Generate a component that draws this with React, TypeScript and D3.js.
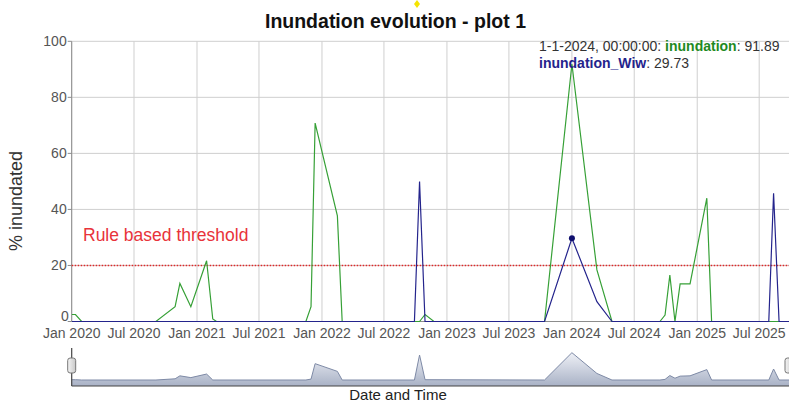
import React from "react";
import * as d3 from "d3";

// ---- data ----
const inundationDates = [
  "2020-01-01", "2020-01-12", "2020-01-30", "2020-09-03", "2020-10-29", "2020-11-12",
  "2020-12-14", "2021-01-29", "2021-02-16", "2021-02-27", "2021-11-15", "2021-11-30",
  "2021-12-12", "2022-02-15", "2022-03-01", "2022-10-13", "2022-10-29", "2022-11-24",
  "2023-10-13", "2024-01-01", "2024-03-14", "2024-04-27", "2024-09-14", "2024-09-29",
  "2024-10-13", "2024-10-28", "2024-11-12", "2024-12-11", "2025-01-29", "2025-02-12",
  "2025-10-01",
];
const inundationValues = [
  2.5, 2.5, 0, 0, 5.3, 13.6,
  5.3, 21.7, 0.9, 0, 0, 5.3,
  70.8, 37.7, 0, 0, 2.5, 0,
  0, 91.89, 18.4, 0, 0, 2.3,
  16.6, 0, 13.4, 13.4, 44, 0,
  0,
];
const wiwDates = [
  "2020-01-01", "2022-09-28", "2022-10-13", "2022-10-29", "2023-10-13", "2024-01-01",
  "2024-03-14", "2024-04-27", "2025-07-29", "2025-08-12", "2025-08-28", "2025-10-01",
];
const wiwValues = [0, 0, 50, 0, 0, 29.73, 7.1, 0, 0, 45.8, 0, 0];

// overview strip (range selector) values
const overviewDates = [
  "2020-01-01", "2020-01-12", "2020-01-30", "2020-09-03", "2020-10-29", "2020-11-12",
  "2020-12-14", "2021-01-29", "2021-02-16", "2021-11-15", "2021-11-30", "2021-12-12",
  "2022-02-15", "2022-03-01", "2022-09-28", "2022-10-13", "2022-10-29", "2023-10-13",
  "2024-01-01", "2024-03-14", "2024-04-27", "2024-09-14", "2024-09-29", "2024-10-13",
  "2024-10-28", "2024-11-12", "2024-12-11", "2025-01-29", "2025-02-12", "2025-07-29",
  "2025-08-12", "2025-08-28", "2025-10-01",
];
const overviewValues = [
  1, 1, 0, 0, 4, 14,
  8, 20, 0, 0, 3, 55,
  29, 0, 0, 84, 1, 0,
  92, 22, 0, 0, 2, 15,
  6, 13, 14, 35, 0, 0,
  37, 0, 0,
];

const yTickValues = [0, 20, 40, 60, 80, 100];
const thresholdValue = 20;
const highlightDate = "2024-01-01";
const titleText = "Inundation evolution - plot 1";
const yLabelText = "% inundated";
const xLabelText = "Date and Time";
const thresholdLabel = "Rule based threshold";
const seriesNames = ["inundation", "inundation_Wiw"];

type Pt = { date: Date; value: number };
const parse = (s: string) => new Date(s + "T00:00:00Z");
const toPts = (ds: string[], vs: number[]): Pt[] => ds.map((d, i) => ({ date: parse(d), value: vs[i] }));

const greenData = toPts(inundationDates, inundationValues);
const blueData = toPts(wiwDates, wiwValues);
const overviewData = toPts(overviewDates, overviewValues);

const FONT = "Arial, 'Liberation Sans', sans-serif";
const GREEN = "#36a036";
const NAVY = "#24248c";

export default function App() {
  const W = 789, H = 403;
  const left = 71.7, right = 790.7, top = 41.3, bottom = 321.5;
  const x = d3.scaleUtc().domain([parse("2020-01-01"), parse("2025-10-01")]).range([left, right]);
  const y = d3.scaleLinear().domain([0, 100]).range([bottom, top]);

  const ovTop = 350.3, ovZero = 380, ovBottom = 386;
  const yo = d3.scaleLinear().domain([0, 100]).range([ovZero, ovTop]);

  const line = d3.line<Pt>().x(d => x(d.date)).y(d => y(d.value));
  const ovArea = d3.area<Pt>().x(d => x(d.date)).y0(ovBottom).y1(d => yo(d.value));
  const ovLine = d3.line<Pt>().x(d => x(d.date)).y(d => yo(d.value));

  const xTicks = x.ticks(d3.utcMonth.every(6) as any);
  const fmt = d3.utcFormat("%b %Y");

  const hd = parse(highlightDate);
  const gHi = greenData.find(p => +p.date === +hd)!;
  const bHi = blueData.find(p => +p.date === +hd)!;
  const dateStr = `${hd.getUTCDate()}-${hd.getUTCMonth() + 1}-${hd.getUTCFullYear()}, 00:00:00`;

  return (
    <svg width={W} height={H} style={{ position: "absolute", left: 0, top: 0, background: "#fff" }} fontFamily={FONT}>
      <defs>
        <linearGradient id="ovfill" x1="0" y1="0" x2="0" y2="1">
          <stop offset="0" stopColor="#eef0f6" />
          <stop offset="1" stopColor="#a9b2c6" />
        </linearGradient>
        <linearGradient id="handle" x1="0" y1="0" x2="1" y2="0">
          <stop offset="0" stopColor="#f4f4f4" />
          <stop offset="1" stopColor="#c8c8c8" />
        </linearGradient>
        <clipPath id="plotclip">
          <rect x={left} y={top - 5} width={right - left} height={bottom - top + 6} />
        </clipPath>
      </defs>

      {/* title */}
      <text x={395.5} y={27.5} textAnchor="middle" fontSize={19.5} fontWeight="bold" fill="#111">{titleText}</text>
      <path d="M417,0 L420,4 L417,8 L414,4 Z" fill="#f5e400" />

      {/* grid */}
      {yTickValues.map(v => (
        <line key={"gy" + v} x1={left} x2={W} y1={y(v)} y2={y(v)} stroke="#cfcfcf" strokeWidth={1} />
      ))}
      {xTicks.map(t => (
        <line key={"gx" + +t} x1={x(t)} x2={x(t)} y1={top} y2={bottom} stroke="#cfcfcf" strokeWidth={1} />
      ))}

      {/* axes */}
      <line x1={left} x2={left} y1={top} y2={bottom} stroke="#8c8c8c" strokeWidth={1} />
      <line x1={left} x2={W} y1={bottom} y2={bottom} stroke="#8c8c8c" strokeWidth={1} />
      {yTickValues.map(v => (
        <g key={"yt" + v}>
          <line x1={left - 4} x2={left} y1={y(v)} y2={y(v)} stroke="#8c8c8c" />
          <text x={v === 0 ? left - 3 : left - 5} y={y(v)} dy={v === 0 ? "-0.05em" : "0.35em"} textAnchor="end" fontSize={14} fill="#555">{v}</text>
        </g>
      ))}
      {xTicks.map(t => (
        <text key={"xt" + +t} x={x(t)} y={338} textAnchor="middle" fontSize={14} fill="#555">{fmt(t)}</text>
      ))}

      {/* axis labels */}
      <text transform={`translate(22,201) rotate(-90)`} textAnchor="middle" fontSize={18} fill="#333">{yLabelText}</text>
      <text x={398} y={400} textAnchor="middle" fontSize={15} fill="#222">{xLabelText}</text>

      {/* threshold */}
      <line x1={left} x2={W} y1={y(thresholdValue)} y2={y(thresholdValue)} stroke="#e02828" strokeWidth={1.5} strokeDasharray="1.5,1.5" />
      <text x={83} y={241} fontSize={17.5} fill="#e8333a">{thresholdLabel}</text>

      {/* series */}
      <g clipPath="url(#plotclip)">
        <path d={line(greenData) || ""} fill="none" stroke={GREEN} strokeWidth={1.2} />
        <path d={line(blueData) || ""} fill="none" stroke={NAVY} strokeWidth={1.2} />
        <circle cx={x(bHi.date)} cy={y(bHi.value)} r={3} fill="#10106e" />
      </g>

      {/* legend / tooltip */}
      <text x={539} y={51} fontSize={14} fill="#333">
        <tspan>{dateStr}: </tspan>
        <tspan fill="#1f8a1f" fontWeight="bold">{seriesNames[0]}</tspan>
        <tspan>: {gHi.value}</tspan>
      </text>
      <text x={539} y={68} fontSize={14} fill="#333">
        <tspan fill={NAVY} fontWeight="bold">{seriesNames[1]}</tspan>
        <tspan>: {bHi.value}</tspan>
      </text>

      {/* overview / range selector */}
      <path d={ovArea(overviewData) || ""} fill="url(#ovfill)" />
      <path d={ovLine(overviewData) || ""} fill="none" stroke="#7e8aa6" strokeWidth={1} />
      <line x1={left} x2={W} y1={ovBottom} y2={ovBottom} stroke="#444" strokeWidth={1.2} />
      <line x1={left} x2={left} y1={348} y2={ovBottom} stroke="#444" strokeWidth={1.2} />
      <rect x={left - 4} y={358} width={8} height={15} rx={2.5} fill="url(#handle)" stroke="#777" strokeWidth={1} />
      <rect x={785} y={358} width={8} height={15} rx={2.5} fill="url(#handle)" stroke="#777" strokeWidth={1} />
    </svg>
  );
}
